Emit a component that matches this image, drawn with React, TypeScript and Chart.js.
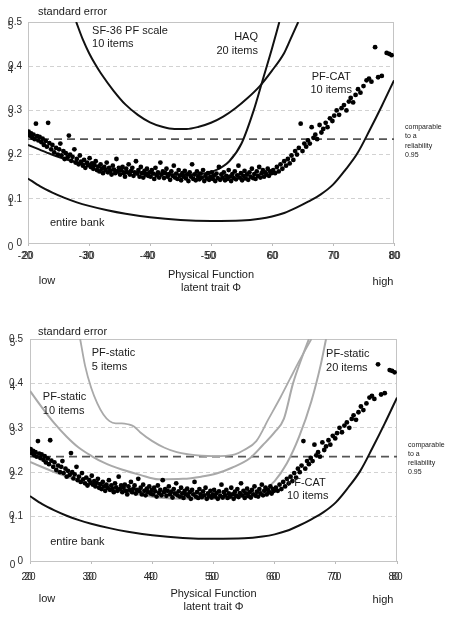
import React, { useEffect, useRef } from "react";
import { Chart, registerables } from "chart.js";
Chart.register(...registerables);

// ---------- data ----------
const thetaTicks = [20, 30, 40, 50, 60, 70, 80];
const seTicks = [0, 0.1, 0.2, 0.3, 0.4, 0.5];
const seGhostLabels = ["0", "1", "2", "3", "4", "5"];
const thetaGhostTop = ["-20", "-30", "-40", "-50", "60", "70", "80"];
const thetaGhostBottom = ["20", "30", "40", "50", "60", "70", "80"];
const reliabilityCut = 0.235;

// PF-CAT 10 items (theta, standard error)
const catPoints: [number, number][] = [
  [20.1,0.252],[20.3,0.243],[20.5,0.248],[20.7,0.238],[20.9,0.245],[21.1,0.235],[21.3,0.27],[21.5,0.242],[21.7,0.232],[21.9,0.24],
  [22.2,0.228],[22.4,0.236],[22.6,0.222],[22.9,0.231],[23.1,0.218],[23.3,0.272],[23.5,0.226],[23.8,0.212],[24.0,0.222],[24.3,0.205],
  [24.6,0.215],[24.9,0.2],[25.1,0.212],[25.3,0.225],[25.5,0.198],[25.8,0.208],[26.0,0.19],[26.2,0.203],[26.5,0.194],[26.7,0.243],
  [26.9,0.2],[27.1,0.186],[27.3,0.195],[27.6,0.212],[27.8,0.182],[28.0,0.19],[28.3,0.178],[28.5,0.198],[28.7,0.184],[29.0,0.175],
  [29.2,0.188],[29.4,0.17],[29.7,0.182],[29.9,0.176],[30.1,0.192],[30.3,0.172],[30.5,0.18],[30.7,0.168],[30.9,0.176],[31.1,0.185],
  [31.3,0.165],[31.5,0.173],[31.7,0.162],[31.9,0.178],[32.1,0.168],[32.3,0.158],[32.5,0.172],[32.7,0.165],[32.9,0.182],[33.1,0.16],
  [33.3,0.17],[33.5,0.163],[33.7,0.155],[33.9,0.175],[34.1,0.166],[34.3,0.158],[34.5,0.19],[34.7,0.162],[34.9,0.17],[35.1,0.155],
  [35.3,0.165],[35.5,0.172],[35.7,0.158],[35.9,0.15],[36.1,0.168],[36.3,0.16],[36.5,0.178],[36.7,0.155],[36.9,0.163],[37.1,0.17],
  [37.3,0.152],[37.5,0.16],[37.7,0.185],[37.9,0.157],[38.1,0.165],[38.3,0.15],[38.5,0.172],[38.7,0.158],[38.9,0.148],[39.1,0.163],
  [39.3,0.155],[39.5,0.168],[39.7,0.152],[39.9,0.16],[40.1,0.15],[40.3,0.165],[40.5,0.157],[40.7,0.145],[40.9,0.17],[41.1,0.153],
  [41.3,0.16],[41.5,0.148],[41.7,0.182],[41.9,0.155],[42.1,0.162],[42.3,0.147],[42.5,0.158],[42.7,0.168],[42.9,0.15],[43.1,0.156],
  [43.3,0.143],[43.5,0.162],[43.7,0.152],[43.9,0.175],[44.1,0.148],[44.3,0.157],[44.5,0.145],[44.7,0.165],[44.9,0.152],[45.1,0.142],
  [45.3,0.158],[45.5,0.15],[45.7,0.163],[45.9,0.146],[46.1,0.155],[46.3,0.14],[46.5,0.16],[46.7,0.15],[46.9,0.178],[47.1,0.145],
  [47.3,0.155],[47.5,0.142],[47.7,0.162],[47.9,0.15],[48.1,0.144],[48.3,0.157],[48.5,0.148],[48.7,0.165],[48.9,0.14],[49.1,0.152],
  [49.3,0.146],[49.5,0.158],[49.7,0.143],[49.9,0.15],[50.1,0.16],[50.3,0.145],[50.5,0.153],[50.7,0.14],[50.9,0.157],[51.1,0.147],
  [51.3,0.172],[51.5,0.143],[51.7,0.155],[51.9,0.148],[52.1,0.16],[52.3,0.142],[52.5,0.152],[52.7,0.145],[52.9,0.165],[53.1,0.15],
  [53.3,0.14],[53.5,0.156],[53.7,0.147],[53.9,0.162],[54.1,0.144],[54.3,0.153],[54.5,0.175],[54.7,0.148],[54.9,0.158],[55.1,0.142],
  [55.3,0.152],[55.5,0.163],[55.7,0.146],[55.9,0.155],[56.1,0.143],[56.3,0.16],[56.5,0.15],[56.7,0.168],[56.9,0.147],[57.1,0.156],
  [57.3,0.145],[57.5,0.162],[57.7,0.152],[57.9,0.172],[58.1,0.148],[58.3,0.158],[58.5,0.165],[58.7,0.15],[58.9,0.16],[59.1,0.155],
  [59.3,0.168],[59.5,0.152],[59.7,0.162],[59.9,0.158],[60.2,0.165],[60.5,0.158],[60.8,0.172],[61.1,0.162],[61.4,0.178],[61.7,0.168],
  [62.0,0.185],[62.3,0.175],[62.6,0.19],[62.9,0.18],[63.2,0.198],[63.5,0.188],[63.8,0.208],[64.1,0.2],[64.4,0.215],[64.7,0.27],
  [65.0,0.208],[65.3,0.225],[65.6,0.218],[65.9,0.232],[66.2,0.225],[66.5,0.262],[66.8,0.238],[67.1,0.245],[67.4,0.235],[67.8,0.267],
  [68.1,0.25],[68.4,0.258],[68.8,0.272],[69.1,0.262],[69.5,0.282],[69.9,0.276],[70.2,0.288],[70.6,0.3],[71.0,0.29],[71.4,0.305],
  [71.8,0.312],[72.2,0.3],[72.6,0.32],[72.9,0.328],[73.3,0.318],[73.7,0.335],[74.1,0.348],[74.5,0.34],[75.0,0.355],[75.5,0.368],
  [75.9,0.372],[76.3,0.365],[76.9,0.443],[77.4,0.375],[78.0,0.378],[78.8,0.43],[79.2,0.428],[79.6,0.425],
];

const entireBank: [number, number][] = [
  [20,0.146],[22,0.128],[24,0.114],[26,0.102],[28,0.092],[30,0.084],[33,0.074],[36,0.066],[40,0.058],[45,0.052],
  [50,0.05],[55,0.051],[58,0.055],[60,0.06],[62,0.068],[64,0.08],[66,0.094],[68,0.11],[70,0.132],[72,0.165],
  [74,0.203],[76,0.255],[78,0.31],[80,0.368],
];

const sf36Pf10: [number, number][] = [
  [27.9,0.5],[29,0.46],[30,0.43],[31,0.405],[32,0.383],[34,0.345],[36,0.313],[38,0.29],[40,0.273],[42,0.263],
  [44,0.258],[46,0.258],[48,0.263],[50,0.272],[52,0.286],[54,0.305],[56,0.328],[58,0.355],[60,0.39],[62,0.43],[63,0.46],[64.3,0.5],
];

const haq20: [number, number][] = [
  [20,0.222],[23,0.205],[26,0.19],[30,0.177],[34,0.166],[38,0.16],[42,0.156],[46,0.155],[49,0.158],[51,0.166],
  [53,0.185],[55,0.225],[57,0.3],[58.5,0.37],[60,0.44],[61.2,0.5],
];

const pfStatic5: [number, number][] = [
  [28.2,0.5],[29,0.44],[30,0.39],[31,0.355],[32,0.33],[33,0.315],[34,0.31],[35,0.31],[36,0.308],[37,0.303],
  [38,0.29],[40,0.27],[42,0.255],[44,0.245],[46,0.24],[48,0.237],[50,0.236],[52,0.237],[53.5,0.24],[55,0.25],
  [57,0.27],[59,0.32],[61,0.37],[62.5,0.41],[64,0.45],[66,0.5],
];

const pfStatic10: [number, number][] = [
  [20,0.383],[22,0.345],[24,0.31],[26,0.28],[28,0.255],[30,0.237],[32,0.222],[35,0.206],[38,0.194],[41,0.184],
  [45,0.185],[48,0.19],[50.5,0.197],[53,0.21],[56,0.232],[58,0.26],[60,0.29],[61.5,0.32],[63,0.4],[64.5,0.46],[65.6,0.5],
];

const pfStatic20: [number, number][] = [
  [20,0.223],[25,0.195],[30,0.172],[35,0.157],[41,0.143],[45,0.14],[50,0.14],[55,0.145],[58,0.158],[60,0.18],
  [62,0.22],[64,0.28],[66,0.36],[67.5,0.44],[68.4,0.5],
];

// ---------- panels ----------
type Curve = { data: [number, number][]; color: string; width: number };
type Label = { lines: string[]; x: number; y: number; align: CanvasTextAlign };
type Panel = {
  top: number; height: number;
  padTop: number; padRight: number; yWidth: number; xHeight: number;
  yTickPad: number; xTickPad: number; titleOffset: number;
  curves: Curve[]; labels: Label[];
  ghostX: string[]; ghostXShift: number[]; ghostYX: number;
};

const BLACK = "#111";
const GREY = "#a9a9a9";

const topPanel: Panel = {
  top: 0, height: 300, padTop: 22, padRight: 57, yWidth: 28, xHeight: 57,
  yTickPad: 6, xTickPad: 4, titleOffset: 10,
  curves: [
    { data: entireBank, color: BLACK, width: 2 },
    { data: sf36Pf10, color: BLACK, width: 2 },
    { data: haq20, color: BLACK, width: 2 },
  ],
  labels: [
    { lines: ["SF-36 PF scale", "10 items"], x: 30.5, y: 0.48, align: "left" },
    { lines: ["HAQ", "20 items"], x: 57.7, y: 0.466, align: "right" },
    { lines: ["PF-CAT", "10 items"], x: 69.7, y: 0.376, align: "center" },
    { lines: ["entire bank"], x: 23.6, y: 0.045, align: "left" },
  ],
  ghostX: thetaGhostTop, ghostXShift: [-3, -3, -3, -3, 1, 1, 1], ghostYX: 10.5,
};

const bottomPanel: Panel = {
  top: 300, height: 319, padTop: 39, padRight: 54, yWidth: 30, xHeight: 58,
  yTickPad: 7, xTickPad: 7, titleOffset: 7,
  curves: [
    { data: entireBank, color: BLACK, width: 2 },
    { data: pfStatic5, color: GREY, width: 1.8 },
    { data: pfStatic10, color: GREY, width: 2 },
    { data: pfStatic20, color: GREY, width: 2 },
  ],
  labels: [
    { lines: ["PF-static", "5 items"], x: 30.1, y: 0.468, align: "left" },
    { lines: ["PF-static", "10 items"], x: 22.1, y: 0.369, align: "left" },
    { lines: ["PF-static", "20 items"], x: 68.4, y: 0.466, align: "left" },
    { lines: ["PF-CAT", "10 items"], x: 62.0, y: 0.176, align: "left" },
    { lines: ["entire bank"], x: 23.3, y: 0.043, align: "left" },
  ],
  ghostX: thetaGhostBottom, ghostXShift: [-3, -3, -3, -3, -3, -3, -3], ghostYX: 12.5,
};

const FONT = "'Liberation Sans', Arial, sans-serif";

function makeChart(canvas: HTMLCanvasElement, p: Panel) {
  const extras = {
    id: "extras",
    beforeDatasetsDraw(chart: any) {
      const { ctx, chartArea: a } = chart;
      ctx.save();
      ctx.strokeStyle = "#c4c4c4";
      ctx.lineWidth = 1;
      ctx.strokeRect(a.left + 0.5, a.top + 0.5, a.right - a.left - 1, a.bottom - a.top);
      ctx.restore();
    },
    afterDraw(chart: any) {
      const { ctx, chartArea: a } = chart;
      const xs = chart.scales.x;
      const ys = chart.scales.y;
      ctx.save();
      ctx.fillStyle = "#1a1a1a";
      ctx.textBaseline = "middle";
      // curve labels
      ctx.font = `11px ${FONT}`;
      for (const l of p.labels) {
        ctx.textAlign = l.align;
        const px = xs.getPixelForValue(l.x);
        const py = ys.getPixelForValue(l.y);
        l.lines.forEach((t, i) => ctx.fillText(t, px, py + i * 13.5));
      }
      ctx.textAlign = "left";
      ctx.fillText("standard error", 38, a.top - p.titleOffset);
      // low / high
      ctx.textAlign = "center";
      ctx.fillText("low", 47, a.bottom + 38);
      ctx.fillText("high", 383, a.bottom + 39);
      // reliability note
      ctx.font = `7px ${FONT}`;
      ctx.textAlign = "left";
      const cy = ys.getPixelForValue(reliabilityCut);
      ["comparable", "to a", "reliability", "0.95"].forEach((t, i) =>
        ctx.fillText(t, a.right + 11, cy - 12 + i * 9.3)
      );
      // overlapping ghost tick labels
      ctx.font = `10px ${FONT}`;
      ctx.fillStyle = "#2a2a2a";
      ctx.textAlign = "center";
      seTicks.forEach((v, i) => {
        ctx.fillText(seGhostLabels[i], p.ghostYX, ys.getPixelForValue(v) + 4);
      });
      thetaTicks.forEach((v, i) => {
        ctx.fillText(p.ghostX[i], xs.getPixelForValue(v) + p.ghostXShift[i], a.bottom + p.xTickPad + 3 + 6);
      });
      ctx.restore();
    },
  };

  const datasets: any[] = [
    {
      type: "scatter",
      data: catPoints.map(([x, y]) => ({ x, y })),
      pointRadius: 2.4,
      pointBorderWidth: 0,
      pointBackgroundColor: "#000",
      order: 0,
    },
    {
      type: "line",
      data: [{ x: thetaTicks[0], y: reliabilityCut }, { x: thetaTicks[thetaTicks.length - 1], y: reliabilityCut }],
      borderColor: "#555",
      borderWidth: 1.8,
      borderDash: [8, 5],
      pointRadius: 0,
      order: 2,
    },
    ...p.curves.map((c) => ({
      type: "line",
      data: c.data.map(([x, y]) => ({ x, y })),
      borderColor: c.color,
      borderWidth: c.width,
      pointRadius: 0,
      cubicInterpolationMode: "monotone",
      tension: 0.4,
      order: 1,
    })),
  ];

  return new Chart(canvas, {
    type: "scatter",
    data: { datasets },
    plugins: [extras],
    options: {
      animation: false,
      responsive: false,
      maintainAspectRatio: false,
      layout: { padding: { top: p.padTop, right: p.padRight, left: 0, bottom: 0 }, autoPadding: false } as any,
      plugins: { legend: { display: false }, tooltip: { enabled: false } },
      scales: {
        x: {
          type: "linear",
          min: thetaTicks[0],
          max: thetaTicks[thetaTicks.length - 1],
          afterBuildTicks: (s: any) => { s.ticks = thetaTicks.map((v) => ({ value: v })); },
          afterFit: (s: any) => { s.height = p.xHeight; },
          ticks: { color: "#2a2a2a", font: { family: FONT, size: 10 }, padding: p.xTickPad, maxRotation: 0 },
          grid: { display: true, drawOnChartArea: false, drawTicks: true, tickLength: 3, color: "#bbb" },
          border: { display: true, color: "#bbb" },
          title: {
            display: true,
            text: ["Physical Function", "latent trait Φ"],
            color: "#1a1a1a",
            font: { family: FONT, size: 11, lineHeight: 1.2 },
            padding: { top: 0, bottom: 5 },
          },
        },
        y: {
          type: "linear",
          min: seTicks[0],
          max: seTicks[seTicks.length - 1],
          afterBuildTicks: (s: any) => { s.ticks = seTicks.map((v) => ({ value: v })); },
          afterFit: (s: any) => { s.width = p.yWidth; },
          ticks: {
            color: "#2a2a2a",
            font: { family: FONT, size: 10 },
            padding: p.yTickPad,
            callback: (v: any) => (Number(v) === 0 ? "0" : Number(v).toFixed(1)),
          },
          grid: { color: "#d2d2d2", drawTicks: false, lineWidth: 1 },
          border: { display: true, color: "#bbb", dash: [4, 3] },
        },
      },
    } as any,
  });
}

function PanelCanvas({ panel }: { panel: Panel }) {
  const ref = useRef<HTMLCanvasElement | null>(null);
  useEffect(() => {
    if (!ref.current) return;
    const chart = makeChart(ref.current, panel);
    return () => chart.destroy();
  }, [panel]);
  return (
    <canvas
      ref={ref}
      width={451}
      height={panel.height}
      style={{ position: "absolute", left: 0, top: panel.top, width: 451, height: panel.height }}
    />
  );
}

export default function App() {
  return (
    <div style={{ position: "absolute", left: 0, top: 0, width: 451, height: 619, background: "#fff", overflow: "hidden" }}>
      <PanelCanvas panel={topPanel} />
      <PanelCanvas panel={bottomPanel} />
    </div>
  );
}
